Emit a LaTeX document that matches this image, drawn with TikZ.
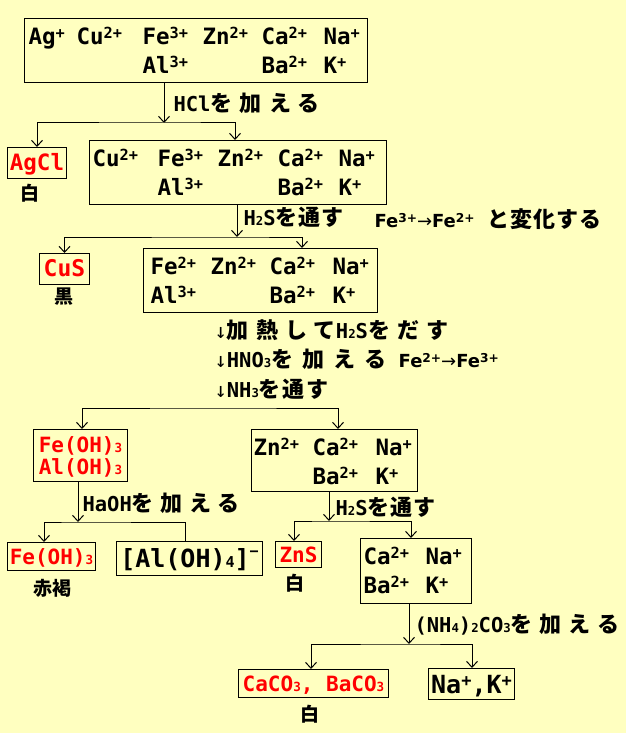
\documentclass[tikz,border=0pt]{standalone}
\usepackage{fontspec}
\usepackage{graphicx}
\setmainfont{DejaVu Sans Mono}
\newfontfamily\jpfont{Noto Sans CJK JP}
\newfontfamily\propfont{DejaVu Sans}
\usetikzlibrary{arrows.meta}
\definecolor{paper}{RGB}{255,255,192}
\setlength\tabcolsep{0pt}

\newcommand\ion[2]{#1\raisebox{.25em}{\scalebox{.68}{#2}}}
\newcommand\sub[1]{\scalebox{.6}{#1}}
\newcommand\jp[2][0]{{\jpfont\addfontfeature{LetterSpace=#1}\fontsize{22}{24}\selectfont #2}}

\tikzset{
  ionbox/.style={draw, line width=1pt, anchor=north west, inner sep=0pt, text height=26pt,
    font=\bfseries\fontsize{22.5}{29}\selectfont},
  redbox/.style={draw, line width=1pt, anchor=north west, inner sep=0pt, text=red,
    text height=15pt, text depth=0pt, font=\bfseries\fontsize{21}{22}\selectfont},
  lbl/.style={anchor=base west, inner sep=0pt, font=\bfseries\fontsize{20.5}{24}\selectfont},
  note/.style={inner sep=0pt, font=\jpfont\bfseries\fontsize{19}{19}\selectfont},
}

\begin{document}
\begin{tikzpicture}[x=1pt, y=-1pt, line width=1pt, >={Straight Barb[length=6pt,width=11pt]}]
    \useasboundingbox (0,0) rectangle (626,733);
    \fill[paper] (0,0) rectangle (626,733);

    % all ions
    \node[ionbox, minimum width=343pt, text depth=38pt] (ions1) at (24,18)
      {\begin{tabular}[t]{@{}p{48pt}p{66pt}p{60pt}p{59pt}p{62pt}p{40pt}@{}}
       \ion{Ag}{+} & \ion{Cu}{2+} & \ion{Fe}{3+} & \ion{Zn}{2+} & \ion{Ca}{2+} & \ion{Na}{+}\\
       & & \ion{Al}{3+} & & \ion{Ba}{2+} & \ion{K}{+}
       \end{tabular}};

    % HCl
    \coordinate (j1) at (164,123);
    \draw[->] (ions1.south -| j1) -- (j1);
    \node[lbl] (hcl) at (173,112) {HCl\jp[33]{を加える}};
    \node[redbox, minimum width=59pt, minimum height=31pt, font=\bfseries\fontsize{22.5}{24}\selectfont] (agcl) at (7,147) {AgCl};
    \node[note] (agclc) at (30,193) {白};
    \node[ionbox, minimum width=297pt, text depth=38pt] (ions2) at (89,140)
      {\begin{tabular}[t]{@{}p{65pt}p{60pt}p{60pt}p{61pt}p{45pt}@{}}
       \ion{Cu}{2+} & \ion{Fe}{3+} & \ion{Zn}{2+} & \ion{Ca}{2+} & \ion{Na}{+}\\
       & \ion{Al}{3+} & & \ion{Ba}{2+} & \ion{K}{+}
       \end{tabular}};
    \draw[<->] (agcl.north) |- (j1) -| (ions2.north -| 235,0);

    % H2S (acid)
    \coordinate (j2) at (237,237);
    \draw[->] (ions2.south -| j2) -- (j2);
    \node[lbl] (hs1) at (243,225) {H\sub{2}S\jp[4]{を通す}};
    \node[lbl] (fe1) at (374,227) {{\propfont\fontsize{18}{20}\selectfont \ion{Fe}{3+}{\mdseries →}\ion{Fe}{2+}} \jp[5]{と変化する}};
    \node[redbox, minimum width=50pt, minimum height=31pt, font=\bfseries\fontsize{23}{24}\selectfont] (cus) at (39,253) {CuS};
    \node[note] (cusc) at (64,297) {黒};
    \node[ionbox, minimum width=234pt, text depth=38pt] (ions3) at (143,248)
      {\begin{tabular}[t]{@{}p{60pt}p{59pt}p{63pt}p{38pt}@{}}
       \ion{Fe}{2+} & \ion{Zn}{2+} & \ion{Ca}{2+} & \ion{Na}{+}\\
       \ion{Al}{3+} & & \ion{Ba}{2+} & \ion{K}{+}
       \end{tabular}};
    \draw[<->] (cus.north) |- (j2) -| (ions3.north -| 302,0);

    % heat, HNO3, NH3
    \node[lbl] (heat) at (214,338) {{\mdseries ↓}\jp[33]{加熱して}H\sub{2}S\jp[33]{をだす}};
    \node[lbl] (hno) at (214,367) {{\mdseries ↓}HNO\sub{3}\jp[42]{を加える} {\propfont\fontsize{18}{20}\selectfont \ion{Fe}{2+}{\mdseries →}\ion{Fe}{3+}}};
    \node[lbl] (nh) at (214,397) {{\mdseries ↓}NH\sub{3}\jp[8]{を通す}};
    \coordinate (j3) at (216,408);
    \node[redbox, minimum width=94pt, minimum height=52pt, text depth=22pt] (feal) at (33,429)
      {\begin{tabular}[t]{@{}l@{}}Fe(OH)\sub{3}\\Al(OH)\sub{3}\end{tabular}};
    \node[ionbox, minimum width=166pt, text depth=36pt] (ions4) at (251,429)
      {\begin{tabular}[t]{@{}p{59pt}p{63pt}p{40pt}@{}}
       \ion{Zn}{2+} & \ion{Ca}{2+} & \ion{Na}{+}\\
       & \ion{Ba}{2+} & \ion{K}{+}
       \end{tabular}};
    \draw[<->] (feal.north -| 82,0) |- (j3) -| (ions4.north -| 338,0);

    % NaOH
    \coordinate (j4) at (78,522);
    \draw[->] (feal.south -| j4) -- (j4);
    \node[lbl] (naoh) at (82,511) {HaOH\jp[31]{を加える}};
    \node[redbox, minimum width=88pt, minimum height=28pt] (feoh) at (7,542) {Fe(OH)\sub{3}};
    \node[note] (feohc) at (52,588) {赤褐};
    \node[draw, anchor=north west, inner sep=0pt, minimum width=146pt, minimum height=34pt,
      text height=18pt, text depth=0pt, font=\bfseries\fontsize{25}{28}\selectfont] (aloh) at (116,541)
      {[Al(OH)\sub{4}]\raisebox{.45em}{\scalebox{.6}{−}}};
    \draw[<-] (feoh.north -| 44,0) |- (j4) -| (aloh.north -| 185,0);

    % H2S (basic)
    \coordinate (j5) at (329,521);
    \draw[->] (ions4.south -| j5) -- (j5);
    \node[lbl] (hs2) at (335,515) {H\sub{2}S\jp[4]{を通す}};
    \node[redbox, minimum width=46pt, minimum height=26pt] (zns) at (275,541) {ZnS};
    \node[note] (znsc) at (295,583) {白};
    \node[ionbox, minimum width=111pt, text depth=39pt] (ions5) at (360,538)
      {\begin{tabular}[t]{@{}p{62pt}p{43pt}@{}}
       \ion{Ca}{2+} & \ion{Na}{+}\\
       \ion{Ba}{2+} & \ion{K}{+}
       \end{tabular}};
    \draw[<->] (zns.north -| 294,0) |- (j5) -| (ions5.north -| 411,0);

    % (NH4)2CO3
    \coordinate (j6) at (409,644);
    \draw[->] (ions5.south -| j6) -- (j6);
    \node[lbl] (nhco) at (414,632) {(NH\sub{4})\sub{2}CO\sub{3}\jp[32]{を加える}};
    \node[redbox, minimum width=150pt, minimum height=28pt] (caco) at (238,669) {CaCO\sub{3}, BaCO\sub{3}};
    \node[note] (cacoc) at (310,714) {白};
    \node[draw, anchor=north west, inner sep=0pt, minimum width=86pt, minimum height=31pt,
      text height=18pt, text depth=0pt, font=\bfseries\fontsize{25}{28}\selectfont] (nak) at (428,668)
      {\ion{Na}{+},\ion{K}{+}};
    \draw[<->] (caco.north -| 311,0) |- (j6) -| (nak.north -| 472,0);
\end{tikzpicture}
\end{document}
